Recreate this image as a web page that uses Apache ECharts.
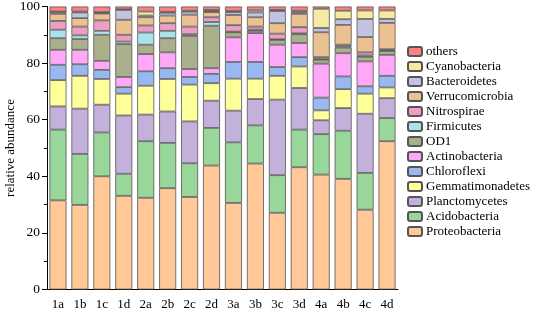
<!DOCTYPE html>
<html>
<head>
<meta charset="utf-8">
<script src="https://cdn.jsdelivr.net/npm/echarts@6/dist/echarts.min.js"></script>
<style>
  html, body { margin: 0; padding: 0; background: #fff; }
  #chartmain { width: 533px; height: 311px; }
</style>
</head>
<body>
<div id="chartmain"></div>
<script>
// 样品
var samples = ['1a', '1b', '1c', '1d', '2a', '2b', '2c', '2d', '3a', '3b', '3c', '3d', '4a', '4b', '4c', '4d'];
var yTicks = [0, 20, 40, 60, 80, 100];

// 各门相对丰度 (%)，自下而上
var proteobacteria   = [31.5, 29.9, 40.0, 33.1, 32.4, 35.8, 32.7, 43.8, 30.6, 44.5, 27.1, 43.2, 40.6, 39.1, 28.2, 52.4];
var acidobacteria    = [25.0, 18.0, 15.5, 7.8, 20.0, 16.0, 11.9, 13.3, 21.4, 13.5, 13.3, 13.3, 14.3, 17.0, 13.0, 8.2];
var planctomycetes   = [8.2, 16.0, 9.8, 20.6, 9.4, 11.1, 14.8, 9.6, 11.2, 9.3, 26.7, 14.7, 4.9, 8.0, 20.9, 7.0];
var gemmatimonadetes = [9.3, 11.6, 9.1, 7.7, 10.2, 11.5, 13.0, 6.2, 11.3, 7.2, 8.4, 7.6, 3.5, 6.7, 7.1, 3.8];
var chloroflexi      = [5.4, 4.1, 3.2, 2.3, 5.1, 3.8, 2.7, 3.3, 5.9, 5.9, 3.1, 3.3, 4.5, 4.5, 2.6, 4.1];
var actinobacteria   = [5.3, 5.1, 3.2, 3.6, 6.1, 5.6, 2.8, 2.0, 8.7, 10.2, 7.9, 5.0, 12.0, 8.2, 8.8, 7.4];
var od1              = [4.1, 3.8, 9.2, 11.6, 3.3, 5.0, 11.7, 15.0, 1.8, 0.8, 1.7, 3.1, 1.4, 2.0, 1.6, 1.4];
var firmicutes       = [3.0, 1.3, 1.4, 0.9, 4.3, 2.6, 0.6, 1.3, 0.2, 0.4, 0.2, 0.3, 0.2, 0.4, 0.5, 0.2];
var nitrospirae      = [3.1, 3.1, 3.7, 2.4, 2.5, 2.7, 2.7, 1.7, 2.3, 1.1, 2.0, 2.2, 0.7, 0.6, 1.1, 0.4];
var verrucomicrobia  = [2.5, 3.0, 2.4, 5.3, 2.9, 2.7, 4.2, 1.8, 3.6, 3.3, 3.7, 4.7, 8.8, 7.0, 5.4, 9.3];
var bacteroidetes    = [0.7, 2.0, 0.3, 3.5, 0.6, 1.0, 1.1, 0.4, 1.0, 1.7, 4.3, 0.6, 1.5, 2.0, 6.4, 1.4];
var cyanobacteria    = [0.1, 0.3, 0.2, 0.2, 1.4, 0.3, 0.3, 0.4, 0.4, 0.7, 0.4, 0.5, 6.8, 3.0, 3.0, 3.0];
var others           = [1.8, 1.8, 2.0, 1.0, 1.8, 1.9, 1.5, 1.2, 1.6, 1.4, 1.2, 1.5, 0.8, 1.5, 1.4, 1.4];

var seriesDefs = [
  ['Proteobacteria', proteobacteria, '#FFC896'],
  ['Acidobacteria', acidobacteria, '#99D699'],
  ['Planctomycetes', planctomycetes, '#C3B1DC'],
  ['Gemmatimonadetes', gemmatimonadetes, '#FFFF99'],
  ['Chloroflexi', chloroflexi, '#99B8F2'],
  ['Actinobacteria', actinobacteria, '#FFA8F7'],
  ['OD1', od1, '#AAB08C'],
  ['Firmicutes', firmicutes, '#AAE4EA'],
  ['Nitrospirae', nitrospirae, '#EE9EC2'],
  ['Verrucomicrobia', verrucomicrobia, '#ECC192'],
  ['Bacteroidetes', bacteroidetes, '#C2C2E2'],
  ['Cyanobacteria', cyanobacteria, '#F6EAA2'],
  ['others', others, '#FF8080']
];

var font = 'Liberation Serif';
var myChart = echarts.init(document.getElementById('chartmain'));

myChart.setOption({
  animation: false,
  grid: { left: 47, right: 135, top: 6.5, bottom: 21.5, outerBoundsMode: 'none' },
  legend: {
    orient: 'vertical',
    left: 402,
    top: 40,
    itemWidth: 14,
    itemHeight: 9,
    itemGap: 2,
    data: seriesDefs.map(function (d) { return d[0]; }).reverse(),
    textStyle: { fontFamily: font, fontSize: 13, color: '#000', lineHeight: 13, padding: [0, 0, 0, -1] }
  },
  xAxis: [{
    type: 'category',
    data: samples,
    axisLine: { lineStyle: { color: '#000', width: 1 } },
    axisTick: { alignWithLabel: true, length: 4, lineStyle: { color: '#000' } },
    axisLabel: { fontFamily: font, fontSize: 13, color: '#000', margin: 9 }
  }, {
    // 类别边界的刻度
    type: 'category',
    data: samples,
    position: 'bottom',
    axisLine: { show: false },
    axisTick: { alignWithLabel: false, length: 4, lineStyle: { color: '#000' } },
    axisLabel: { show: false }
  }],
  yAxis: {
    type: 'value',
    min: yTicks[0],
    max: yTicks[yTicks.length - 1],
    interval: 20,
    name: 'relative abundance',
    nameLocation: 'middle',
    nameGap: 30,
    nameMoveOverlap: false,
    nameTextStyle: { fontFamily: font, fontSize: 13, color: '#000' },
    axisLine: { show: true, lineStyle: { color: '#000', width: 1 } },
    axisTick: { show: true, length: 5, lineStyle: { color: '#000' } },
    minorTick: { show: true, splitNumber: 2, length: 3, lineStyle: { color: '#000' } },
    splitLine: { show: false },
    axisLabel: { fontFamily: font, fontSize: 13.5, color: '#000', margin: 7 }
  },
  series: seriesDefs.map(function (d) {
    return {
      name: d[0],
      type: 'bar',
      stack: 'total',
      barWidth: 17,
      data: d[1],
      itemStyle: { color: d[2], borderColor: '#555', borderWidth: 0.8 }
    };
  })
});
</script>
</body>
</html>
